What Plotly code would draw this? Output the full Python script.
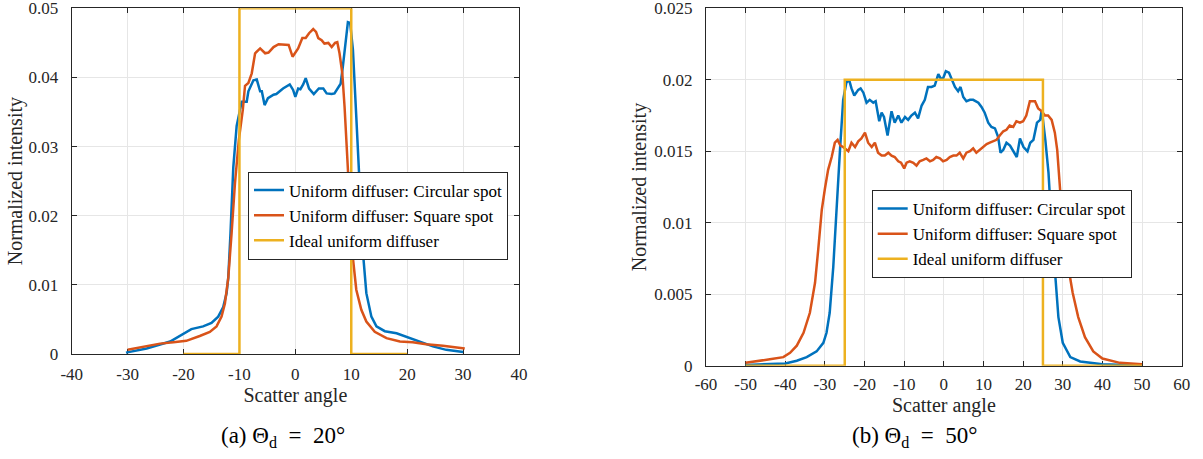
import plotly.graph_objects as go

# ---------------- data: (a) Theta_d = 20 deg ----------------
a_circ_x = [-30.3, -26.6, -22.4, -20.0, -18.6, -16.5, -15.0, -13.8, -12.9, -12.3, -12.0, -11.6, -11.1, -10.5,
            -9.6, -8.7, -8.4, -7.5, -6.9, -6.3, -6.0, -5.5, -4.9, -3.9, -3.4, -2.2, -1.0, -0.4, 0.0, 0.5, 0.9,
            1.4, 1.85, 2.45, 3.3, 4.2, 5.0, 5.6, 6.5, 7.0, 7.6, 8.1, 8.5, 9.0, 9.4, 9.8, 10.3, 10.9, 11.5, 12.1,
            12.7, 13.6, 14.5, 16.0, 18.1, 19.8, 22.2, 24.6, 27.0, 30.0]
a_circ_y = [0.0002, 0.0008, 0.0018, 0.0030, 0.0036, 0.0040, 0.0045, 0.0054, 0.0068, 0.0088, 0.0110, 0.0175,
            0.0270, 0.0330, 0.0365, 0.0365, 0.0380, 0.0396, 0.0397, 0.0380, 0.0380, 0.0360, 0.0370, 0.0375,
            0.0376, 0.0384, 0.0390, 0.0382, 0.0372, 0.0384, 0.0383, 0.0390, 0.0399, 0.0384, 0.0376, 0.0384,
            0.0384, 0.0377, 0.0376, 0.0377, 0.0384, 0.0391, 0.0416, 0.0450, 0.0480, 0.0479, 0.0440, 0.0343,
            0.0247, 0.0146, 0.0088, 0.0054, 0.0040, 0.0033, 0.0030, 0.0025, 0.0018, 0.0011, 0.0006, 0.0003]

a_sq_x = [-30.0, -26.6, -24.2, -21.8, -19.5, -17.1, -15.3, -14.1, -13.2, -12.6, -12.0, -11.4, -10.8, -10.1,
          -9.4, -9.0, -8.4, -7.8, -7.2, -6.3, -5.4, -4.8, -3.9, -3.0, -2.1, -1.2, -0.5, -0.1, 0.5, 1.25, 1.85,
          2.45, 3.2, 3.7, 4.1, 4.7, 5.2, 5.9, 6.5, 7.1, 7.5, 7.9, 8.4, 8.8, 9.2, 9.7, 10.2, 10.9, 11.8, 12.7,
          14.2, 16.3, 18.7, 21.0, 23.4, 26.4, 30.3]
a_sq_y = [0.0006, 0.0011, 0.0015, 0.0017, 0.0019, 0.0026, 0.0032, 0.0040, 0.0054, 0.0073, 0.0110, 0.0175,
          0.0247, 0.0310, 0.0353, 0.0388, 0.0392, 0.0406, 0.0435, 0.0442, 0.0435, 0.0436, 0.0444, 0.0448,
          0.0448, 0.0447, 0.0430, 0.0435, 0.0442, 0.0457, 0.0457, 0.0464, 0.0470, 0.0466, 0.0457, 0.0454,
          0.0449, 0.0450, 0.0444, 0.0450, 0.0451, 0.0435, 0.0406, 0.0358, 0.0295, 0.0223, 0.0146, 0.0093,
          0.0064, 0.0047, 0.0032, 0.0023, 0.0018, 0.0017, 0.0014, 0.0012, 0.0008]

a_ideal_x = [-20, -10, -10, 10, 10, 20]
a_ideal_y = [0, 0, 0.05, 0.05, 0, 0]

# ---------------- data: (b) Theta_d = 50 deg ----------------
b_circ_x = [-50, -40, -37.1, -34.6, -32.1, -30.4, -29.6, -28.8, -27.9, -27.1, -26.2, -25.4, -24.6, -23.9,
            -23.3, -22.6, -21.6, -21.0, -20.3, -19.5, -18.7, -17.8, -17.2, -16.3, -15.7, -15.1, -14.2, -13.2,
            -12.4, -11.5, -10.7, -9.8, -9.0, -8.2, -7.3, -6.5, -5.6, -4.8, -4.0, -3.1, -2.3, -1.4, -0.8, -0.2,
            0.5, 1.3, 1.9, 2.8, 3.6, 4.2, 4.9, 5.7, 6.6, 7.4, 8.7, 9.5, 10.3, 11.2, 12.0, 12.9, 13.7, 14.3,
            15.0, 15.8, 16.7, 17.5, 18.4, 19.2, 20.1, 21.1, 21.8, 22.6, 23.5, 24.3, 24.7, 25.6, 26.4, 27.2,
            28.1, 28.9, 30.0, 31.9, 34.4, 40, 50]
b_circ_y = [0.00005, 0.00016, 0.00035, 0.0006, 0.0010, 0.0016, 0.0023, 0.0037, 0.0069, 0.0110, 0.0151,
            0.0186, 0.0198, 0.0200, 0.0194, 0.0189, 0.0193, 0.0194, 0.0191, 0.0184, 0.0186, 0.0184, 0.0185,
            0.0171, 0.0177, 0.0174, 0.0161, 0.0178, 0.0170, 0.0175, 0.0170, 0.0174, 0.0172, 0.0175, 0.0177,
            0.0173, 0.0182, 0.0186, 0.0195, 0.0195, 0.0196, 0.0204, 0.0201, 0.0201, 0.0206, 0.0205, 0.0201,
            0.0195, 0.0192, 0.0195, 0.0188, 0.0185, 0.0186, 0.0186, 0.0184, 0.0181, 0.0177, 0.0170, 0.0167,
            0.0166, 0.0160, 0.0149, 0.0151, 0.0156, 0.0154, 0.0150, 0.0146, 0.0159, 0.0153, 0.0150, 0.0156,
            0.0158, 0.0170, 0.0172, 0.0179, 0.0158, 0.0135, 0.0097, 0.0065, 0.0034, 0.0016, 0.0006, 0.0003,
            0.0001, 0.00002]

b_sq_x = [-50, -47.2, -43.9, -40.5, -38.8, -37.1, -35.4, -33.8, -32.5, -31.7, -30.8, -30.0, -29.2, -28.3,
          -27.5, -26.8, -26.1, -25.4, -24.7, -24.1, -23.3, -22.4, -21.6, -20.8, -19.9, -19.1, -18.2, -17.4,
          -16.6, -15.7, -14.9, -14.0, -13.2, -12.4, -11.5, -10.8, -10.0, -9.4, -8.6, -7.7, -6.9, -6.1, -5.2,
          -4.4, -3.5, -2.7, -1.9, -1.0, -0.2, 0.7, 1.5, 2.4, 3.2, 4.0, 4.9, 5.7, 6.6, 7.4, 8.2, 9.1, 9.9,
          10.8, 11.6, 12.4, 13.3, 14.1, 15.0, 15.8, 16.6, 17.5, 18.3, 19.2, 20.0, 20.8, 21.7, 22.4, 23.0,
          23.8, 24.7, 25.5, 26.3, 27.2, 28.0, 28.6, 29.1, 29.7, 30.6, 31.4, 32.5, 33.9, 35.6, 37.7, 40,
          44.4, 50]
b_sq_y = [0.0002, 0.0003, 0.00045, 0.0006, 0.0009, 0.0014, 0.0023, 0.0037, 0.0058, 0.0081, 0.0109, 0.0124,
          0.0137, 0.0146, 0.0156, 0.0158, 0.0154, 0.0153, 0.0151, 0.0150, 0.0156, 0.0153, 0.0157, 0.0159,
          0.0163, 0.0156, 0.0153, 0.0156, 0.0149, 0.0147, 0.0147, 0.0149, 0.0147, 0.0146, 0.0143, 0.0142,
          0.0138, 0.0142, 0.0143, 0.0142, 0.0140, 0.0143, 0.0144, 0.0145, 0.0143, 0.0144, 0.0146, 0.0145,
          0.0143, 0.0144, 0.0146, 0.0147, 0.0147, 0.0149, 0.0145, 0.0149, 0.0150, 0.0152, 0.0149, 0.0151,
          0.0153, 0.0155, 0.0156, 0.0157, 0.0158, 0.0161, 0.0164, 0.0165, 0.0168, 0.0167, 0.0171, 0.0170,
          0.0171, 0.0175, 0.0185, 0.0185, 0.0185, 0.0180, 0.0178, 0.0175, 0.0175, 0.0172, 0.0163, 0.0151,
          0.0128, 0.0109, 0.0088, 0.0069, 0.0051, 0.0034, 0.0020, 0.0010, 0.0005, 0.0002, 0.0001]

b_ideal_x = [-50, -25, -25, 25, 25, 50]
b_ideal_y = [0, 0, 0.02, 0.02, 0, 0]

# ---------------- labels ----------------
series_names = ["Uniform diffuser: Circular spot", "Uniform diffuser: Square spot", "Ideal uniform diffuser"]
a_xticks = [-40, -30, -20, -10, 0, 10, 20, 30, 40]
a_xticktext = ["-40", "-30", "-20", "-10", "0", "10", "20", "30", "40"]
a_yticks = [0, 0.01, 0.02, 0.03, 0.04, 0.05]
a_yticktext = ["0", "0.01", "0.02", "0.03", "0.04", "0.05"]
b_xticks = [-60, -50, -40, -30, -20, -10, 0, 10, 20, 30, 40, 50, 60]
b_xticktext = ["-60", "-50", "-40", "-30", "-20", "-10", "0", "10", "20", "30", "40", "50", "60"]
b_yticks = [0, 0.005, 0.01, 0.015, 0.02, 0.025]
b_yticktext = ["0", "0.005", "0.01", "0.015", "0.02", "0.025"]
x_title = "Scatter angle"
y_title = "Normalized intensity"
cap_a = "(a) Θ<sub>d</sub>\u2002=\u200220°"
cap_b = "(b) Θ<sub>d</sub>\u2002=\u200250°"

colors = ["#0072BD", "#D95319", "#EDB120"]
FONT = "Liberation Serif"
INK = "#262626"
W, H = 1203, 459
EPS = 1.0001
LW = 2.5

fig = go.Figure()
for xs, ys, c, n in zip([a_circ_x, a_sq_x, a_ideal_x], [a_circ_y, a_sq_y, a_ideal_y], colors, series_names):
    fig.add_trace(go.Scatter(x=xs, y=ys, mode="lines", name=n, line=dict(color=c, width=LW),
                             cliponaxis=False, xaxis="x", yaxis="y", legend="legend"))
for xs, ys, c, n in zip([b_circ_x, b_sq_x, b_ideal_x], [b_circ_y, b_sq_y, b_ideal_y], colors, series_names):
    fig.add_trace(go.Scatter(x=xs, y=ys, mode="lines", name=n, line=dict(color=c, width=LW),
                             cliponaxis=False, xaxis="x2", yaxis="y2", legend="legend2"))

axis_common = dict(showline=True, linecolor=INK, linewidth=1, mirror="ticks", ticks="inside",
                   ticklen=5, tickcolor=INK, tickwidth=1, showgrid=True, gridcolor="#e6e6e6",
                   gridwidth=1, zeroline=False, automargin=False, layer="below traces",
                   ticklabeloverflow="allow",
                   tickfont=dict(family=FONT, size=17, color=INK))
title_font = dict(family=FONT, size=20, color=INK)

fig.update_layout(
    width=W, height=H, margin=dict(l=0, r=0, t=0, b=0, autoexpand=False),
    paper_bgcolor="white", plot_bgcolor="white",
    font=dict(family=FONT, color=INK),
    xaxis=dict(domain=[71.7 / W, 519 / W], range=[-40 * EPS, 40 * EPS], tickvals=a_xticks,
               ticktext=a_xticktext, anchor="y",
               title=dict(text=x_title, font=title_font, standoff=2),
               ticklabelstandoff=5, **axis_common),
    yaxis=dict(domain=[(H - 354) / H, (H - 8.3) / H], range=[0, 0.05 * EPS], tickvals=a_yticks,
               ticktext=a_yticktext, anchor="x",
               title=dict(text=y_title, font=title_font, standoff=0),
               ticklabelstandoff=9, **axis_common),
    xaxis2=dict(domain=[706 / W, 1181.7 / W], range=[-60 * EPS, 60 * EPS], tickvals=b_xticks,
                ticktext=b_xticktext, anchor="y2",
                title=dict(text=x_title, font=title_font, standoff=4),
                ticklabelstandoff=3, **axis_common),
    yaxis2=dict(domain=[(H - 365.7) / H, (H - 8.3) / H], range=[0, 0.025 * EPS], tickvals=b_yticks,
                ticktext=b_yticktext, anchor="x2",
                title=dict(text=y_title, font=title_font, standoff=2),
                ticklabelstandoff=9, **axis_common),
    legend=dict(x=248 / W, y=(H - 215.5) / H, xanchor="left", yanchor="middle", bgcolor="white",
                bordercolor=INK, borderwidth=1, font=dict(family=FONT, size=17, color="black"),
                tracegroupgap=0, itemwidth=30),
    legend2=dict(x=871.7 / W, y=(H - 234) / H, xanchor="left", yanchor="middle", bgcolor="white",
                 bordercolor=INK, borderwidth=1, font=dict(family=FONT, size=17, color="black"),
                 tracegroupgap=0, itemwidth=30),
    showlegend=True,
)

fig.add_annotation(text=cap_a, x=283 / W, y=(H - 437) / H, xref="paper", yref="paper",
                   xanchor="center", yanchor="middle",
                   showarrow=False, font=dict(family=FONT, size=23, color="black"))
fig.add_annotation(text=cap_b, x=914 / W, y=(H - 437) / H, xref="paper", yref="paper",
                   xanchor="center", yanchor="middle",
                   showarrow=False, font=dict(family=FONT, size=23, color="black"))

fig.write_html("out.html", config={"displayModeBar": False},
               post_script="document.body.style.margin='0px';document.body.style.padding='0px';")
